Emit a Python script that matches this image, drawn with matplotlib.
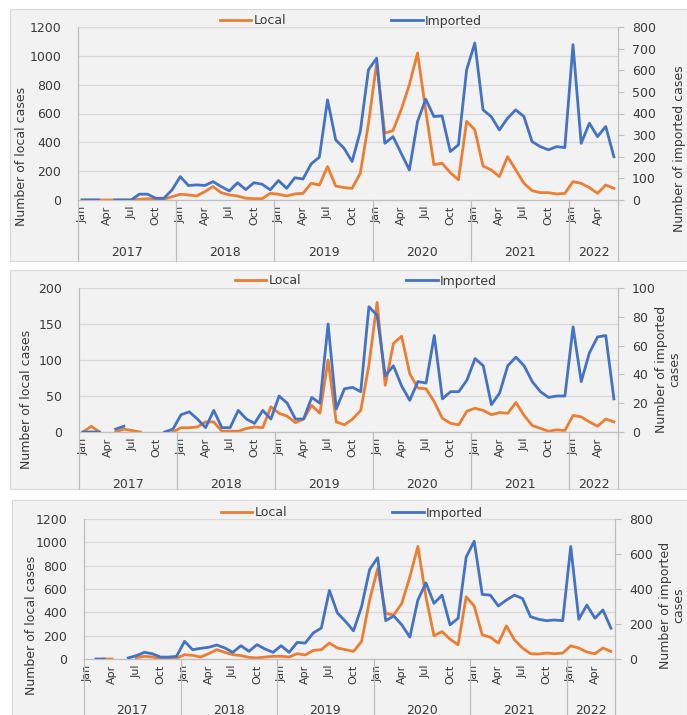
import numpy as np
import matplotlib
matplotlib.use("Agg")
import matplotlib.pyplot as plt
import matplotlib.transforms as mtransforms
from matplotlib.patches import Rectangle
from matplotlib.lines import Line2D

nan = np.nan

years = ["2017", "2018", "2019", "2020", "2021", "2022"]
month_names = ["Jan", "Feb", "Mar", "Apr", "May", "Jun",
               "Jul", "Aug", "Sep", "Oct", "Nov", "Dec"]
months = [m for y in years for m in month_names][:66]   # Jan 2017 - Jun 2022

# panel 1
local_1 = [0, 0, 0, 0, 0, 0, 0, 5, 9, 5, 5, 23,
           40, 35, 28, 58, 93, 51, 35, 28, 12, 9, 9, 46,
           40, 28, 42, 46, 116, 104, 232, 97, 86, 81, 185, 530,
           950, 463, 482, 626, 800, 1020, 620, 245, 255, 190, 140, 545,
           487, 236, 209, 162, 301, 209, 116, 65, 51, 51, 42, 46,
           127, 116, 86, 46, 104, 81]
imported_1 = [0, 0, 0, nan, 0, 0, 0, 27, 27, 8, 8, 47,
              108, 67, 70, 67, 85, 62, 42, 80, 48, 80, 73, 47,
              90, 54, 103, 97, 167, 198, 463, 278, 240, 178, 317, 602,
              656, 262, 293, 216, 139, 363, 466, 386, 389, 224, 255, 602,
              726, 417, 386, 324, 378, 417, 386, 270, 247, 232, 247, 242,
              718, 262, 355, 293, 340, 200]

# panel 2
local_2 = [0, 8, 0, nan, 0, 4, 2, 0, nan, nan, nan, 0,
           6, 6, 7, 14, 14, 1, 1, 1, 5, 7, 6, 35,
           26, 22, 13, 18, 37, 26, 100, 14, 10, 18, 30, 93,
           180, 65, 123, 133, 81, 61, 60, 42, 19, 12, 10, 29,
           33, 30, 24, 27, 26, 41, 23, 9, 5, 1, 3, 2,
           23, 21, 14, 8, 18, 14]
imported_2 = [0, 0, 0, nan, 2, 4, nan, nan, nan, nan, 0, 2,
              12, 14, 9, 3, 15, 3, 3, 15, 9, 6, 15, 9,
              25, 20, 9, 9, 24, 20, 75, 16, 30, 31, 28, 87,
              81, 39, 46, 32, 22, 35, 34, 67, 23, 28, 28, 36,
              51, 46, 19, 27, 46, 52, 46, 35, 28, 24, 25, 25,
              73, 35, 55, 66, 67, 23]

# panel 3
local_3 = [nan, nan, 0, 0, nan, nan, 11, 23, 17, 0, 3, 6,
           37, 31, 17, 46, 80, 57, 37, 29, 14, 9, 17, 23,
           23, 17, 46, 34, 74, 80, 137, 94, 80, 65, 150, 505,
           775, 392, 377, 477, 704, 965, 533, 199, 235, 170, 122, 533,
           454, 207, 187, 136, 284, 165, 94, 45, 43, 51, 45, 51,
           113, 94, 60, 45, 94, 65]
imported_3 = [nan, 0, 0, nan, nan, 6, 19, 38, 30, 11, 11, 15,
              101, 53, 61, 67, 80, 63, 38, 76, 44, 82, 57, 38,
              76, 38, 95, 91, 149, 177, 392, 263, 215, 161, 299, 511,
              579, 219, 246, 195, 125, 337, 435, 318, 365, 195, 233, 582,
              673, 369, 365, 303, 337, 365, 346, 242, 227, 219, 223, 219,
              643, 227, 308, 233, 280, 176]

W, H = 687, 715
ORANGE = "#ed7d31"
BLUE = "#4472c4"
TXT = "#3a3a3a"
AXC = "#bfbfbf"
GRID = "#d9d9d9"

plt.rcParams["font.family"] = "DejaVu Sans"

fig = plt.figure(figsize=(W / 100, H / 100), dpi=100)
fig.patch.set_facecolor("white")

panels = [
    dict(local=local_1, imported=imported_1, box=(10, 9, 687, 261), plot=(78, 27, 618, 200),
         lmax=1200, lstep=200, rmax=800, rstep=100, legend=(351, 21), year_y=252,
         llab=(22, 156), rlab=(680, 149), rtext="Number of imported cases"),
    dict(local=local_2, imported=imported_2, box=(10, 270, 687, 489), plot=(79, 288, 618, 432),
         lmax=200, lstep=50, rmax=100, rstep=20, legend=(366, 281), year_y=484,
         llab=(27, 399), rlab=(668, 369), rtext="Number of imported\ncases"),
    dict(local=local_3, imported=imported_3, box=(12, 500, 687, 716), plot=(84, 519, 615, 659),
         lmax=1200, lstep=200, rmax=800, rstep=200, legend=(352, 513), year_y=710,
         llab=(32, 625), rlab=(672, 605), rtext="Number of imported\ncases"),
]

x = np.arange(len(months))

for p in panels:
    bx0, by0, bx1, by1 = p["box"]
    fig.add_artist(Rectangle((bx0 / W, 1 - by1 / H), (bx1 - bx0) / W, (by1 - by0) / H,
                             transform=fig.transFigure, facecolor="#f2f2f2",
                             edgecolor="#d9d9d9", lw=0.8, zorder=-1))

    l, t, r, b = p["plot"]
    ax = fig.add_axes([l / W, 1 - b / H, (r - l) / W, (b - t) / H])
    ax.set_facecolor("none")
    ax2 = ax.twinx()

    ax.plot(x, p["local"], color=ORANGE, lw=2.0, solid_joinstyle="round")
    ax2.plot(x, p["imported"], color=BLUE, lw=2.0, solid_joinstyle="round")

    ax.set_xlim(-0.5, len(months) - 0.5)
    ax.set_ylim(0, p["lmax"])
    ax2.set_ylim(0, p["rmax"])
    ax.set_yticks(np.arange(0, p["lmax"] + 1, p["lstep"]))
    ax2.set_yticks(np.arange(0, p["rmax"] + 1, p["rstep"]))
    ax.yaxis.grid(True, color=GRID, lw=0.9)
    ax.set_axisbelow(True)

    ax.tick_params(axis="y", length=0, pad=12, labelsize=9, labelcolor=TXT)
    ax2.tick_params(axis="y", length=4, width=0.8, color=AXC, pad=6, labelsize=9, labelcolor=TXT)

    ax.set_xticks(x[::3])
    ax.set_xticklabels(months[::3], rotation=90, fontsize=8, color=TXT)
    ax.tick_params(axis="x", length=0, pad=4)

    for s in ("top", "right"):
        ax.spines[s].set_visible(False)
    for s in ("top", "left", "bottom"):
        ax2.spines[s].set_visible(False)
    for s in ("left", "bottom"):
        ax.spines[s].set_color(AXC)
        ax.spines[s].set_linewidth(0.9)
    ax2.spines["right"].set_color(AXC)
    ax2.spines["right"].set_linewidth(0.9)

    # year separators and year labels under the month labels
    trans = mtransforms.blended_transform_factory(ax.transData, ax.transAxes)
    depth = -(by1 - b) / (b - t)
    edges = [-0.5 + 12 * i for i in range(len(years))] + [len(months) - 0.5]
    for e in edges:
        ax.add_line(Line2D([e, e], [0, depth], transform=trans, color=AXC, lw=0.9,
                           clip_on=False))
    yy = -(p["year_y"] - b) / (b - t)
    for i, yr in enumerate(years):
        ax.text((edges[i] + edges[i + 1]) / 2, yy, yr, transform=trans, ha="center",
                va="center", fontsize=9, color=TXT, clip_on=False)

    # axis titles
    fig.text(p["llab"][0] / W, 1 - p["llab"][1] / H, "Number of local cases", rotation=90,
             ha="center", va="center", fontsize=9, color=TXT)
    fig.text(p["rlab"][0] / W, 1 - p["rlab"][1] / H, p["rtext"], rotation=90,
             ha="center", va="center", fontsize=9, color=TXT, linespacing=1.0)

    handles = [Line2D([], [], color=ORANGE, lw=2.0), Line2D([], [], color=BLUE, lw=2.0)]
    leg = fig.legend(handles, ["Local", "Imported"], loc="center",
                     bbox_to_anchor=(p["legend"][0] / W, 1 - p["legend"][1] / H),
                     ncol=2, frameon=False, handlelength=2.5, handletextpad=0.2,
                     columnspacing=8.4, fontsize=9, borderpad=0, borderaxespad=0)
    for tx in leg.get_texts():
        tx.set_color(TXT)

fig.savefig("out.png", dpi=100, facecolor="white")
